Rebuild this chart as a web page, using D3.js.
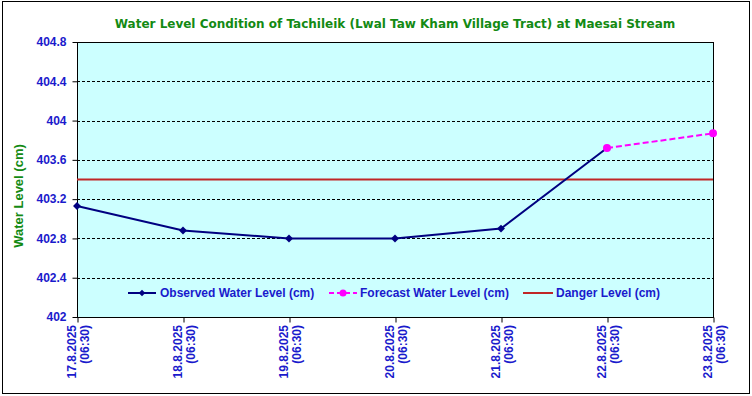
<!DOCTYPE html>
<html>
<head>
<meta charset="utf-8">
<script src="https://cdn.jsdelivr.net/npm/d3@7"></script>
<style>
  body { margin: 0; background: #fff; }
  svg { display: block; }
</style>
</head>
<body>
<div id="chart"></div>
<script>
// Chart data
var dates = ['17.8.2025', '18.8.2025', '19.8.2025', '20.8.2025', '21.8.2025', '22.8.2025', '23.8.2025']
var times = ['(06:30)', '(06:30)', '(06:30)', '(06:30)', '(06:30)', '(06:30)', '(06:30)']
var observed = [403.13, 402.88, 402.80, 402.80, 402.90, 403.72, null]
var forecast = [null, null, null, null, null, 403.72, 403.87]
var dangerLevel = 403.40
var yTicks = [402, 402.4, 402.8, 403.2, 403.6, 404, 404.4, 404.8]

const width = 752
const height = 396
const margin = { top: 42, right: 39, bottom: 79, left: 77 }

var svg = d3.select('#chart')
  .append('svg')
  .attr('width', width)
  .attr('height', height)

// Outer frame
svg.append('rect')
  .attr('x', 2.5).attr('y', 1.5)
  .attr('width', 747).attr('height', 392)
  .attr('fill', '#fff')
  .attr('stroke', '#000')
  .attr('stroke-width', 1)

var x = d3.scalePoint()
  .domain(dates)
  .range([margin.left, width - margin.right])

var y = d3.scaleLinear()
  .domain([402, 404.8])
  .range([height - margin.bottom, margin.top])

// Plot area
svg.append('rect')
  .attr('x', margin.left)
  .attr('y', margin.top)
  .attr('width', width - margin.left - margin.right)
  .attr('height', height - margin.top - margin.bottom)
  .attr('fill', '#ccffff')

// Grid lines
svg.append('g')
  .selectAll('line')
  .data(yTicks.slice(1, -1))
  .enter().append('line')
    .attr('x1', margin.left)
    .attr('x2', width - margin.right)
    .attr('y1', d => Math.round(y(d)) + 0.5)
    .attr('y2', d => Math.round(y(d)) + 0.5)
    .attr('stroke', '#000')
    .attr('stroke-width', 1)
    .attr('stroke-dasharray', '3,2')

// Plot border
svg.append('rect')
  .attr('x', margin.left + 0.5)
  .attr('y', margin.top + 0.5)
  .attr('width', width - margin.left - margin.right)
  .attr('height', height - margin.top - margin.bottom)
  .attr('fill', 'none')
  .attr('stroke', '#000')

// Y axis
var yAxis = svg.append('g')
  .attr('transform', 'translate(' + (margin.left + 0.5) + ',0)')
  .call(d3.axisLeft(y).tickValues(yTicks).tickSize(5).tickPadding(6).tickFormat(d => +d.toFixed(1)))
yAxis.select('.domain').remove()
yAxis.selectAll('line').attr('stroke', '#000')
yAxis.selectAll('text')
  .attr('fill', '#1a1acc')
  .style('font', 'bold 12px "Liberation Sans", Arial, sans-serif')

// X axis
var xAxis = svg.append('g')
  .attr('transform', 'translate(0,' + (height - margin.bottom + 0.5) + ')')
  .call(d3.axisBottom(x).tickSize(5).tickFormat(''))
xAxis.select('.domain').remove()
xAxis.selectAll('line').attr('stroke', '#000').attr('transform', 'translate(0.5,0)')

// Rotated two-line date labels
var xLabels = svg.append('g')
  .selectAll('text')
  .data(dates)
  .enter().append('text')
    .attr('transform', d => 'translate(' + (x(d) + 1) + ',' + (height - margin.bottom + 8) + ') rotate(-90)')
    .attr('text-anchor', 'end')
    .attr('fill', '#1a1acc')
    .style('font', 'bold 12px "Liberation Sans", Arial, sans-serif')
xLabels.append('tspan')
  .attr('x', 0).attr('y', -2)
  .text(d => d)
xLabels.append('tspan')
  .attr('x', 0).attr('y', 11)
  .text((d, i) => times[i])

// Danger level
svg.append('line')
  .attr('x1', margin.left)
  .attr('x2', width - margin.right)
  .attr('y1', y(dangerLevel))
  .attr('y2', y(dangerLevel))
  .attr('stroke', '#c02626')
  .attr('stroke-width', 2)

var line = d3.line()
  .defined(d => d != null)
  .x((d, i) => x(dates[i]))
  .y(d => y(d))

// Observed series
svg.append('path')
  .attr('d', line(observed))
  .attr('fill', 'none')
  .attr('stroke', '#000080')
  .attr('stroke-width', 2)

var diamond = d3.symbol().type(d3.symbolDiamond2).size(40)

svg.append('g')
  .selectAll('path')
  .data(observed.map((v, i) => [dates[i], v]).filter(d => d[1] != null && d[0] !== '22.8.2025'))
  .enter().append('path')
    .attr('d', diamond)
    .attr('transform', d => 'translate(' + x(d[0]) + ',' + y(d[1]) + ')')
    .attr('fill', '#000080')

// Forecast series
svg.append('path')
  .attr('d', line(forecast))
  .attr('fill', 'none')
  .attr('stroke', '#ff00ff')
  .attr('stroke-width', 2)
  .attr('stroke-dasharray', '6,3')

svg.append('g')
  .selectAll('circle')
  .data(forecast.map((v, i) => [dates[i], v]).filter(d => d[1] != null))
  .enter().append('circle')
    .attr('cx', d => x(d[0]))
    .attr('cy', d => y(d[1]))
    .attr('r', 4)
    .attr('fill', '#ff00ff')

// Legend
var legendFont = 'bold 12px "Liberation Sans", Arial, sans-serif'
var legendY = 293
var legend = svg.append('g')

legend.append('line')
  .attr('x1', 128).attr('x2', 156).attr('y1', legendY).attr('y2', legendY)
  .attr('stroke', '#000080').attr('stroke-width', 2)
legend.append('path')
  .attr('d', d3.symbol().type(d3.symbolDiamond2).size(28))
  .attr('transform', 'translate(142,' + legendY + ')')
  .attr('fill', '#000080')
legend.append('text')
  .attr('x', 160).attr('y', legendY + 4)
  .attr('fill', '#1a1acc')
  .style('font', legendFont)
  .text('Observed Water Level (cm)')

legend.append('line')
  .attr('x1', 329).attr('x2', 357).attr('y1', legendY).attr('y2', legendY)
  .attr('stroke', '#ff00ff').attr('stroke-width', 2)
  .attr('stroke-dasharray', '5,3')
legend.append('circle')
  .attr('cx', 343).attr('cy', legendY).attr('r', 3.5)
  .attr('fill', '#ff00ff')
legend.append('text')
  .attr('x', 360).attr('y', legendY + 4)
  .attr('fill', '#1a1acc')
  .style('font', legendFont)
  .text('Forecast Water Level (cm)')

legend.append('line')
  .attr('x1', 523).attr('x2', 553).attr('y1', legendY).attr('y2', legendY)
  .attr('stroke', '#c02626').attr('stroke-width', 2)
legend.append('text')
  .attr('x', 556).attr('y', legendY + 4)
  .attr('fill', '#1a1acc')
  .style('font', legendFont)
  .text('Danger Level (cm)')

// Title
svg.append('text')
  .attr('x', 395)
  .attr('y', 28)
  .attr('text-anchor', 'middle')
  .attr('fill', '#138a13')
  .style('font', 'bold 12px "DejaVu Sans", Verdana, sans-serif')
  .text('Water Level Condition of Tachileik (Lwal Taw Kham Village Tract) at Maesai Stream')

// Y axis title
svg.append('text')
  .attr('transform', 'translate(23,196) rotate(-90)')
  .attr('text-anchor', 'middle')
  .attr('fill', '#138a13')
  .style('font', 'bold 13px "Liberation Sans", Arial, sans-serif')
  .text('Water Level (cm)')
</script>
</body>
</html>
